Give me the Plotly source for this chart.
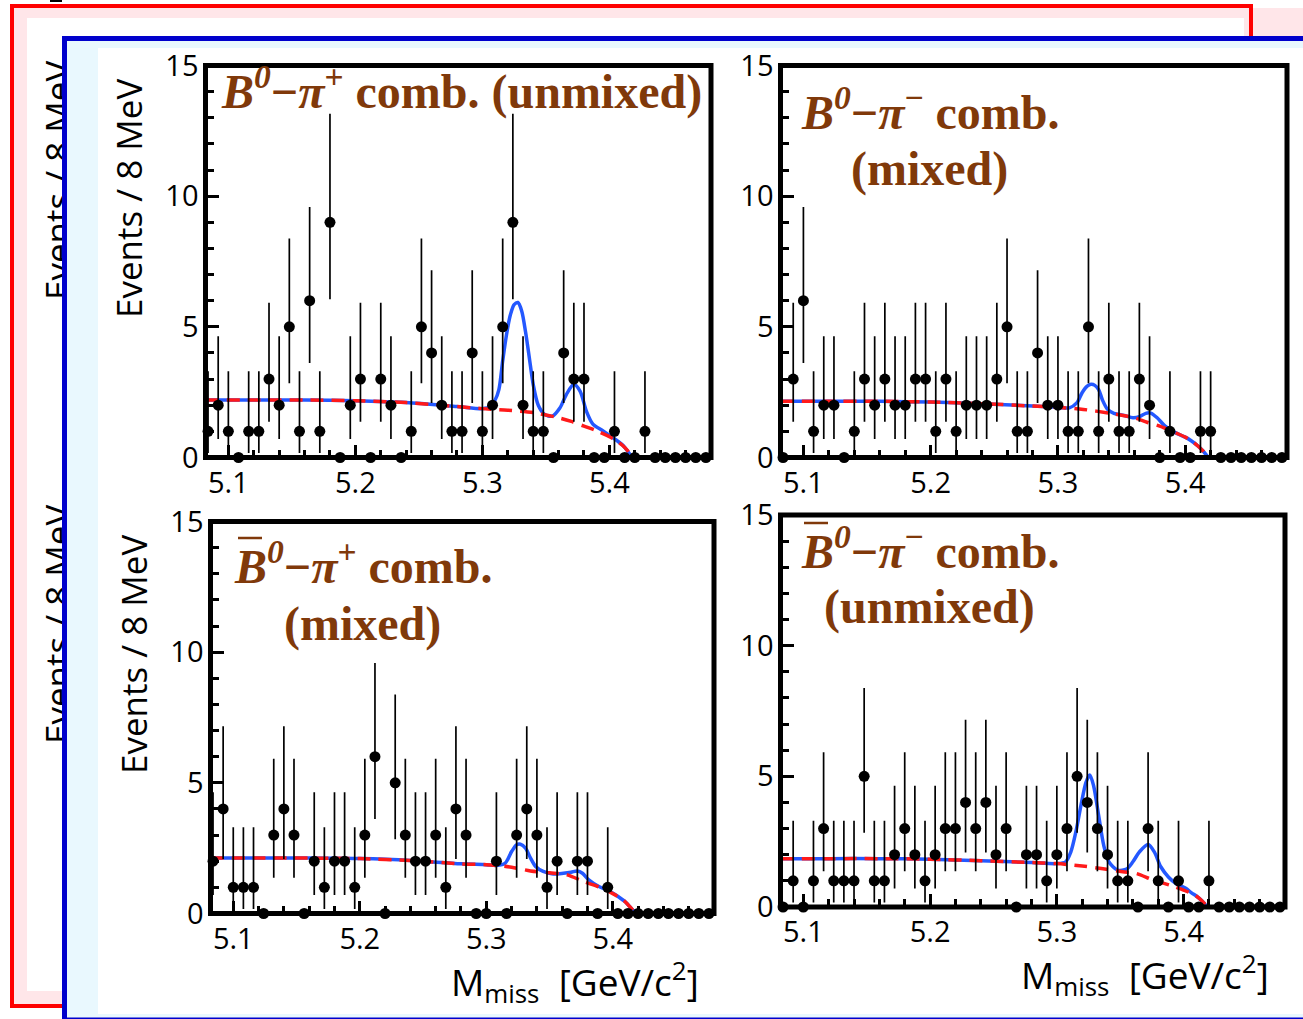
import plotly.graph_objects as go

W, H = 1303, 1019

# ---------------- data ----------------
bin_centers = [5.084, 5.092, 5.100, 5.108, 5.116, 5.124, 5.132, 5.140, 5.148, 5.156,
               5.164, 5.172, 5.180, 5.188, 5.196, 5.204, 5.212, 5.220, 5.228, 5.236,
               5.244, 5.252, 5.260, 5.268, 5.276, 5.284, 5.292, 5.300, 5.308, 5.316,
               5.324, 5.332, 5.340, 5.348, 5.356, 5.364, 5.372, 5.380, 5.388, 5.396,
               5.404, 5.412, 5.420, 5.428, 5.436, 5.444, 5.452, 5.460, 5.468, 5.476]

counts_b0_pip = [1, 2, 1, 0, 1, 1, 3, 2, 5, 1, 6, 1, 9, 0, 2, 3, 0, 3, 2, 0,
                 1, 5, 4, 2, 1, 1, 4, 1, 2, 5, 9, 2, 1, 1, 0, 4, 3, 3, 0, 0,
                 1, 0, 0, 1, 0, 0, 0, 0, 0, 0]
counts_b0_pim = [0, 3, 6, 1, 2, 2, 0, 1, 3, 2, 3, 2, 2, 3, 3, 1, 3, 1, 2, 2,
                 2, 3, 5, 1, 1, 4, 2, 2, 1, 1, 5, 1, 3, 1, 1, 3, 2, 0, 1, 0,
                 0, 1, 1, 0, 0, 0, 0, 0, 0, 0]
counts_b0bar_pip = [2, 4, 1, 1, 1, 0, 3, 4, 3, 0, 2, 1, 2, 2, 1, 3, 6, 0, 5, 3,
                    2, 2, 3, 1, 4, 3, 0, 0, 2, 0, 3, 4, 3, 1, 2, 0, 2, 2, 0, 1,
                    0, 0, 0, 0, 0, 0, 0, 0, 0, 0]
counts_b0bar_pim = [0, 1, 0, 1, 3, 1, 1, 1, 5, 1, 1, 2, 3, 2, 1, 2, 3, 3, 4, 3,
                    4, 2, 3, 0, 2, 2, 1, 2, 3, 5, 4, 3, 2, 1, 1, 0, 3, 1, 0, 1,
                    0, 0, 1, 0, 0, 0, 0, 0, 0, 0]

# 68.27% Poisson (Garwood) interval bounds for a count n
poisson_low = {0: 0.0, 1: 0.173, 2: 0.708, 3: 1.367, 4: 2.086, 5: 2.840, 6: 3.620, 7: 4.419, 8: 5.232, 9: 6.055}
poisson_high = {0: 1.841, 1: 3.300, 2: 4.638, 3: 5.918, 4: 7.163, 5: 8.382, 6: 9.584, 7: 10.77, 8: 11.97, 9: 13.15}

# background (red dashed) curves
bg_x_1 = [5.082, 5.12, 5.16, 5.20, 5.24, 5.28, 5.30, 5.32, 5.34, 5.36, 5.37, 5.38, 5.39, 5.40, 5.405, 5.41, 5.414, 5.417, 5.418]
bg_y_1 = [2.2, 2.2, 2.2, 2.17, 2.1, 1.95, 1.87, 1.81, 1.72, 1.52, 1.38, 1.2, 1.02, 0.8, 0.66, 0.48, 0.28, 0.08, 0.0]
bg_x_2 = [5.082, 5.12, 5.16, 5.20, 5.24, 5.28, 5.30, 5.32, 5.34, 5.36, 5.37, 5.38, 5.39, 5.40, 5.405, 5.41, 5.414, 5.417, 5.418]
bg_y_2 = [2.15, 2.15, 2.15, 2.12, 2.06, 1.97, 1.92, 1.84, 1.70, 1.52, 1.35, 1.2, 1.0, 0.78, 0.63, 0.44, 0.25, 0.07, 0.0]
bg_x_3 = [5.082, 5.12, 5.16, 5.20, 5.24, 5.28, 5.30, 5.32, 5.335, 5.35, 5.364, 5.377, 5.39, 5.40, 5.405, 5.41, 5.414, 5.417, 5.418]
bg_y_3 = [2.12, 2.12, 2.12, 2.1, 2.03, 1.9, 1.87, 1.77, 1.63, 1.56, 1.48, 1.22, 1.0, 0.76, 0.62, 0.44, 0.23, 0.07, 0.0]
bg_x_4 = [5.082, 5.12, 5.16, 5.20, 5.24, 5.28, 5.30, 5.32, 5.335, 5.352, 5.363, 5.376, 5.389, 5.40, 5.405, 5.41, 5.414, 5.417, 5.419]
bg_y_4 = [1.85, 1.85, 1.85, 1.83, 1.77, 1.70, 1.66, 1.57, 1.47, 1.35, 1.28, 1.03, 0.84, 0.65, 0.55, 0.42, 0.26, 0.10, 0.0]

# total fit (blue solid) curves
fit_x_1 = [5.082, 5.12, 5.16, 5.20, 5.24, 5.28, 5.300, 5.306, 5.310, 5.313, 5.316, 5.319, 5.322, 5.325,
           5.328, 5.331, 5.334, 5.337, 5.340, 5.344, 5.349, 5.355, 5.361, 5.366, 5.372, 5.377, 5.382,
           5.387, 5.395, 5.405, 5.411, 5.415, 5.418]
fit_y_1 = [2.2, 2.2, 2.2, 2.17, 2.1, 1.95, 1.87, 1.93, 2.2, 2.6, 3.7, 4.7, 5.45, 5.85,
           5.93, 5.6, 4.8, 3.8, 2.8, 2.0, 1.65, 1.58, 1.89, 2.4, 2.8, 2.53, 1.76,
           1.28, 1.02, 0.68, 0.45, 0.2, 0.0]
fit_x_2 = [5.082, 5.12, 5.16, 5.20, 5.24, 5.28, 5.300, 5.309, 5.315, 5.319, 5.323, 5.326, 5.329, 5.332,
           5.335, 5.339, 5.344, 5.352, 5.359, 5.364, 5.369, 5.373, 5.378, 5.384, 5.391, 5.400, 5.405,
           5.41, 5.414, 5.417, 5.418]
fit_y_2 = [2.15, 2.15, 2.15, 2.12, 2.06, 1.97, 1.92, 1.9, 2.1, 2.48, 2.73, 2.8, 2.76, 2.6,
           2.2, 1.84, 1.69, 1.61, 1.52, 1.56, 1.69, 1.7, 1.52, 1.21, 0.98, 0.78, 0.63,
           0.44, 0.25, 0.07, 0.0]
fit_x_3 = [5.082, 5.12, 5.16, 5.20, 5.24, 5.28, 5.300, 5.308, 5.315, 5.320, 5.324, 5.327, 5.331, 5.335,
           5.339, 5.345, 5.353, 5.361, 5.367, 5.372, 5.376, 5.381, 5.389, 5.398, 5.405, 5.41, 5.414,
           5.417, 5.418]
fit_y_3 = [2.12, 2.12, 2.12, 2.1, 2.03, 1.9, 1.87, 1.84, 1.93, 2.37, 2.63, 2.65, 2.5, 2.12,
           1.8, 1.61, 1.51, 1.54, 1.58, 1.63, 1.54, 1.29, 1.03, 0.84, 0.62, 0.44, 0.23,
           0.07, 0.0]
fit_x_4 = [5.082, 5.12, 5.16, 5.20, 5.24, 5.28, 5.300, 5.307, 5.311, 5.315, 5.319, 5.323, 5.326, 5.329,
           5.333, 5.337, 5.341, 5.348, 5.355, 5.360, 5.365, 5.372, 5.377, 5.382, 5.388, 5.394, 5.402,
           5.406, 5.41, 5.414, 5.417, 5.419]
fit_y_4 = [1.85, 1.85, 1.85, 1.83, 1.77, 1.70, 1.66, 1.73, 2.1, 2.87, 3.88, 4.77, 5.05, 4.64,
           3.5, 2.36, 1.73, 1.41, 1.45, 1.73, 2.1, 2.39, 2.1, 1.54, 1.15, 0.9, 0.71,
           0.55, 0.42, 0.26, 0.10, 0.0]

x_ticks = [5.1, 5.2, 5.3, 5.4]
y_ticks = [0, 5, 10, 15]
y_title = "Events / 8 MeV"
x_title = "M<sub>miss</sub> &nbsp;[GeV/c<sup>2</sup>]"
titles_line1 = [
    "<b><i>B</i><sup><i>0</i></sup>\u2212<i>\u03c0</i><sup>+</sup> comb. (unmixed)</b>",
    "<b><i>B</i><sup><i>0</i></sup>\u2212<i>\u03c0</i><sup>\u2212</sup> comb.</b>",
    "<b><i>B</i><sup><i>0</i></sup>\u2212<i>\u03c0</i><sup>+</sup> comb.</b>",
    "<b><i>B</i><sup><i>0</i></sup>\u2212<i>\u03c0</i><sup>\u2212</sup> comb.</b>",
]
titles_line2 = [None, "<b>(mixed)</b>", "<b>(mixed)</b>", "<b>(unmixed)</b>"]

# ---------------- styling / layout ----------------
BROWN = "#80390a"
BLUE = "#2458ff"
RED = "#ff1a1a"
PINK = "#ffe6e9"
LIGHTBLUE = "#e9f8fe"
FRAME_BLUE = "#0000cc"
FRAME_RED = "#ff0000"
SANS = "Open Sans"
SERIF = "Liberation Serif"


def px(x):
    return x / W


def py(y):
    return 1 - y / H


panels = [
    dict(counts=counts_b0_pip, bgx=bg_x_1, bgy=bg_y_1, fx=fit_x_1, fy=fit_y_1,
         dx=(205.5, 711.0), dy=(65.5, 457.5)),
    dict(counts=counts_b0_pim, bgx=bg_x_2, bgy=bg_y_2, fx=fit_x_2, fy=fit_y_2,
         dx=(780.5, 1287.0), dy=(65.5, 457.5)),
    dict(counts=counts_b0bar_pip, bgx=bg_x_3, bgy=bg_y_3, fx=fit_x_3, fy=fit_y_3,
         dx=(210.5, 714.0), dy=(521.5, 913.5)),
    dict(counts=counts_b0bar_pim, bgx=bg_x_4, bgy=bg_y_4, fx=fit_x_4, fy=fit_y_4,
         dx=(780.5, 1285.0), dy=(515.0, 907.0)),
]

fig = go.Figure()
layout = dict(width=W, height=H, margin=dict(l=0, r=0, t=0, b=0, pad=0, autoexpand=False),
              paper_bgcolor="white", plot_bgcolor="rgba(0,0,0,0)", showlegend=False)
shapes = []
annotations = []

# ---- decorative slide frames (red figure behind, blue figure in front) ----
shapes += [
    dict(type="rect", xref="paper", yref="paper", x0=px(14), x1=px(1303), y0=py(1004), y1=py(8),
         fillcolor=PINK, line=dict(width=0), layer="below"),
    dict(type="rect", xref="paper", yref="paper", x0=px(27), x1=px(1244), y0=py(991), y1=py(18),
         fillcolor="white", line=dict(width=0), layer="below"),
    dict(type="line", xref="paper", yref="paper", x0=px(12), x1=px(12), y0=py(1008), y1=py(4),
         line=dict(color=FRAME_RED, width=4), layer="below"),
    dict(type="line", xref="paper", yref="paper", x0=px(10), x1=px(1253), y0=py(6), y1=py(6),
         line=dict(color=FRAME_RED, width=4), layer="below"),
    dict(type="line", xref="paper", yref="paper", x0=px(1251), x1=px(1251), y0=py(40), y1=py(4),
         line=dict(color=FRAME_RED, width=4), layer="below"),
    dict(type="line", xref="paper", yref="paper", x0=px(10), x1=px(64), y0=py(1006), y1=py(1006),
         line=dict(color=FRAME_RED, width=4), layer="below"),
    dict(type="rect", xref="paper", yref="paper", x0=px(50), x1=px(62), y0=py(2), y1=py(0),
         fillcolor="black", line=dict(width=0), layer="below"),
    # blue figure
    dict(type="rect", xref="paper", yref="paper", x0=px(62), x1=px(1303), y0=py(1019), y1=py(36),
         fillcolor=LIGHTBLUE, line=dict(width=0), layer="below"),
    dict(type="rect", xref="paper", yref="paper", x0=px(98), x1=px(1303), y0=py(1014), y1=py(48),
         fillcolor="white", line=dict(width=0), layer="below"),
    dict(type="line", xref="paper", yref="paper", x0=px(62), x1=px(1303), y0=py(38.5), y1=py(38.5),
         line=dict(color=FRAME_BLUE, width=5), layer="below"),
    dict(type="line", xref="paper", yref="paper", x0=px(62), x1=px(1303), y0=py(1018.5), y1=py(1018.5),
         line=dict(color=FRAME_BLUE, width=2), layer="below"),
]

# text of the figure behind (partly hidden by the front figure)
for cy in (181, 625):
    annotations.append(dict(text=y_title, x=px(57), y=py(cy), xref="paper", yref="paper",
                            showarrow=False, textangle=-90, xanchor="center", yanchor="middle",
                            font=dict(family=SANS, size=35, color="black")))
# covers (front figure's left edge) drawn over the behind text
annotations.append(dict(text=" ", x=px(62), y=py(36), xref="paper", yref="paper", showarrow=False,
                        xanchor="left", yanchor="top", width=5, height=983, bgcolor=FRAME_BLUE,
                        borderwidth=0, borderpad=0))
annotations.append(dict(text=" ", x=px(67), y=py(41), xref="paper", yref="paper", showarrow=False,
                        xanchor="left", yanchor="top", width=31, height=973, bgcolor=LIGHTBLUE,
                        borderwidth=0, borderpad=0))

for k, p in enumerate(panels):
    sfx = "" if k == 0 else str(k + 1)
    xa, ya = "x" + sfx, "y" + sfx
    counts = p["counts"]
    err_up = [poisson_high[n] - n if n > 0 else 0 for n in counts]
    err_dn = [n - poisson_low[n] if n > 0 else 0 for n in counts]

    fig.add_trace(go.Scatter(x=p["fx"], y=p["fy"], mode="lines", xaxis=xa, yaxis=ya,
                             line=dict(color=BLUE, width=3.5, shape="spline", smoothing=0.8),
                             hoverinfo="skip"))
    fig.add_trace(go.Scatter(x=p["bgx"], y=p["bgy"], mode="lines", xaxis=xa, yaxis=ya,
                             line=dict(color=RED, width=3.5, dash="13px,8px", shape="spline", smoothing=0.8),
                             hoverinfo="skip"))
    fig.add_trace(go.Scatter(x=bin_centers, y=counts, mode="markers", xaxis=xa, yaxis=ya,
                             marker=dict(color="black", size=11, line=dict(width=0)),
                             error_y=dict(type="data", symmetric=False, array=err_up, arrayminus=err_dn,
                                          color="black", thickness=1.7, width=0),
                             cliponaxis=False))

    layout["xaxis" + sfx] = dict(domain=[px(p["dx"][0]), px(p["dx"][1])], anchor=ya,
                                 range=[5.082, 5.48], tickvals=x_ticks, ticktext=[str(v) for v in x_ticks],
                                 ticks="inside", ticklen=13, tickwidth=3, tickcolor="black",
                                 minor=dict(dtick=0.02, tick0=5.0, ticks="inside", ticklen=8, tickwidth=2.5,
                                            tickcolor="black"),
                                 showline=False, showgrid=False, zeroline=False, ticklabelstandoff=5,
                                 automargin=False,
                                 tickfont=dict(family=SANS, size=29, color="black"), fixedrange=True)
    layout["yaxis" + sfx] = dict(domain=[py(p["dy"][1]), py(p["dy"][0])], anchor=xa,
                                 range=[0, 15], tickvals=y_ticks, ticks="inside", ticklen=13, tickwidth=3,
                                 tickcolor="black",
                                 minor=dict(dtick=1, tick0=0, ticks="inside", ticklen=8, tickwidth=2.5,
                                            tickcolor="black"),
                                 showline=False, showgrid=False, zeroline=False, ticklabelstandoff=6,
                                 automargin=False,
                                 tickfont=dict(family=SANS, size=29, color="black"), fixedrange=True)
    shapes.append(dict(type="rect", xref=xa + " domain", yref=ya + " domain", x0=0, x1=1, y0=0, y1=1,
                       line=dict(color="black", width=5), fillcolor="rgba(0,0,0,0)", layer="above"))

# front y-axis titles
annotations.append(dict(text=y_title, x=px(129), y=py(199), xref="paper", yref="paper", showarrow=False,
                        textangle=-90, xanchor="center", yanchor="middle",
                        font=dict(family=SANS, size=35, color="black")))
annotations.append(dict(text=y_title, x=px(133), y=py(655), xref="paper", yref="paper", showarrow=False,
                        textangle=-90, xanchor="center", yanchor="middle",
                        font=dict(family=SANS, size=35, color="black")))
# x-axis titles
for (rx, cy) in ((701, 981), (1271, 974)):
    annotations.append(dict(text=x_title, x=px(rx), y=py(cy), xref="paper", yref="paper", showarrow=False,
                            xanchor="right", yanchor="middle",
                            font=dict(family=SANS, size=37, color="black")))

# panel labels
title_pos = [((461, 88), None), ((930, 109), (929, 169)), ((363, 563), (362, 624)), ((930, 548), (929, 607))]
for k in range(4):
    (cx1, cy1), second = title_pos[k]
    annotations.append(dict(text=titles_line1[k], x=px(cx1), y=py(cy1), xref="paper", yref="paper",
                            showarrow=False, xanchor="center", yanchor="middle",
                            font=dict(family=SERIF, size=48, color=BROWN)))
    if second is not None:
        annotations.append(dict(text=titles_line2[k], x=px(second[0]), y=py(second[1]), xref="paper",
                                yref="paper", showarrow=False, xanchor="center", yanchor="middle",
                                font=dict(family=SERIF, size=48, color=BROWN)))
# bars over B (anti-B meson)
for (x0, x1, yb) in ((238, 262, 538), (804, 828, 523)):
    shapes.append(dict(type="line", xref="paper", yref="paper", x0=px(x0), x1=px(x1), y0=py(yb), y1=py(yb),
                       line=dict(color=BROWN, width=2.5), layer="above"))

layout["shapes"] = shapes
layout["annotations"] = annotations
fig.update_layout(**layout)

post = ("var d=document.getElementById('{plot_id}');"
        "d.style.position='fixed';d.style.top='0px';d.style.left='0px';"
        "document.documentElement.style.margin='0';document.documentElement.style.overflow='hidden';"
        "document.body.style.margin='0';document.body.style.padding='0';document.body.style.overflow='hidden';")
fig.write_html("out.html", config={"displayModeBar": False, "responsive": False}, post_script=post)
